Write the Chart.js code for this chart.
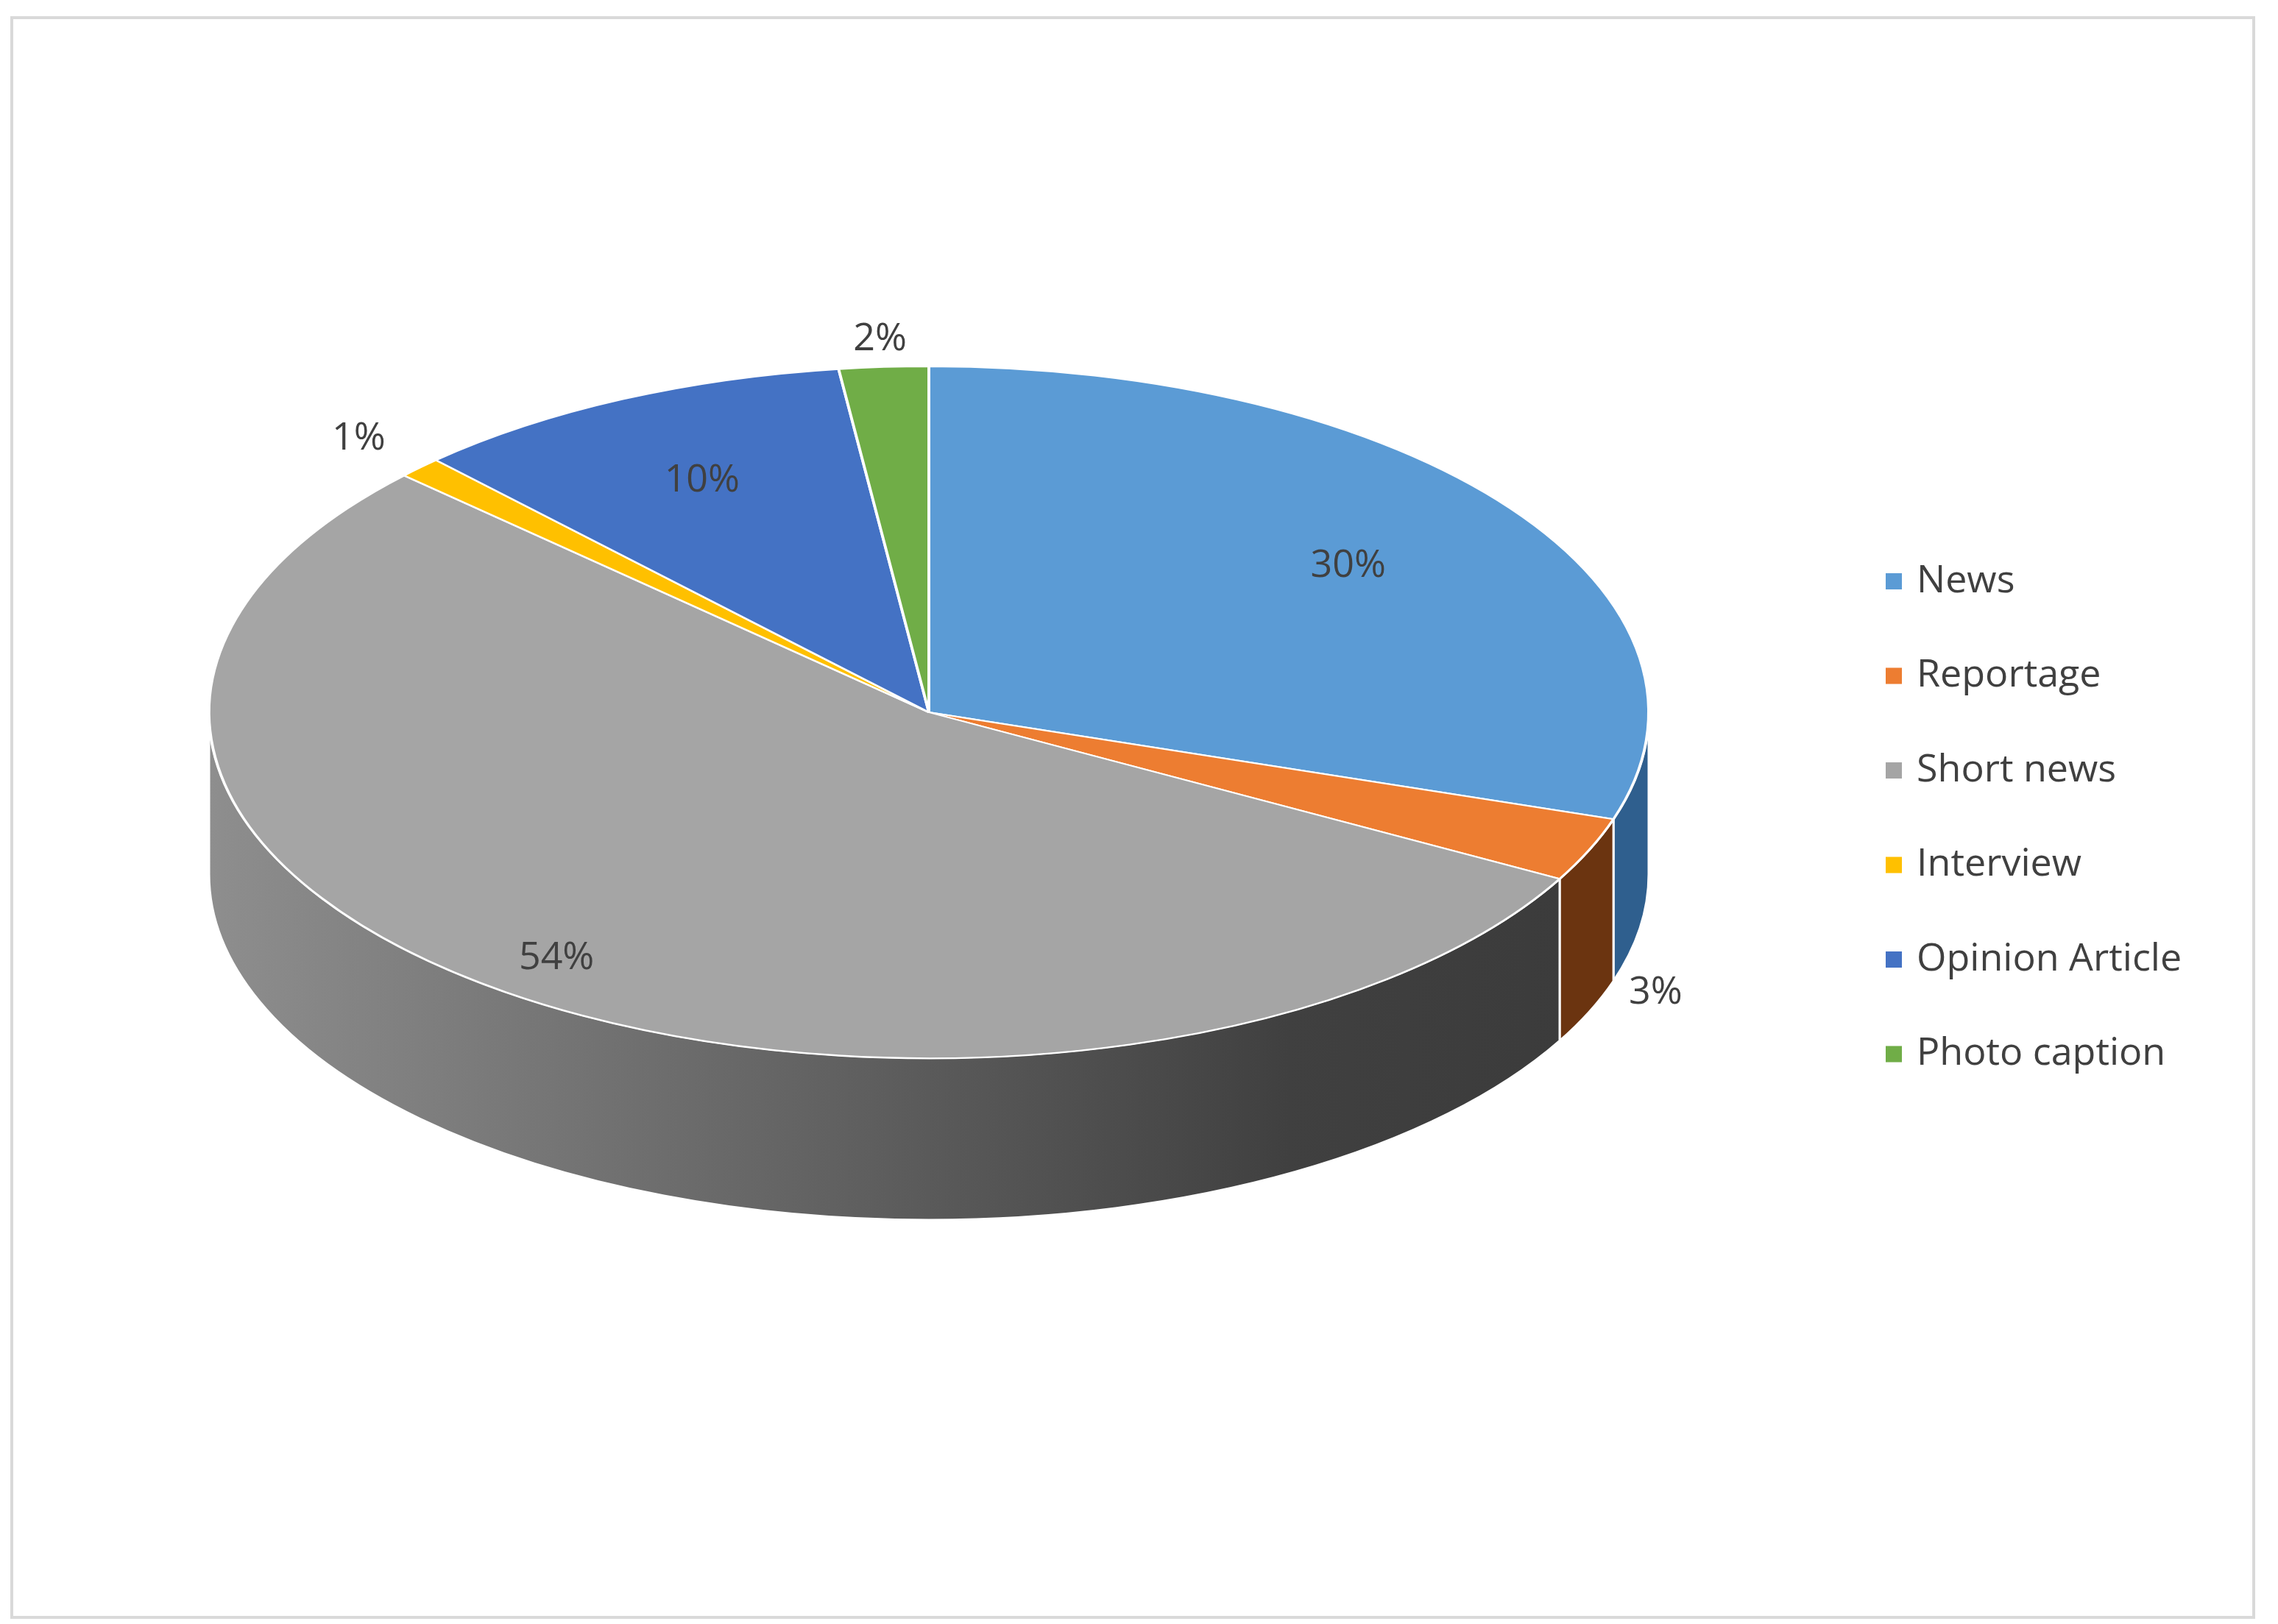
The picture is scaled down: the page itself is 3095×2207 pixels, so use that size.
<!DOCTYPE html>
<html>
<head>
<meta charset="utf-8">
<script src="https://cdn.jsdelivr.net/npm/chart.js@4.4.0/dist/chart.umd.min.js"></script>
<style>
  body { margin: 0; background: #fff; }
  #frame { position: absolute; left: 14px; top: 22px; width: 3042px; height: 2170px; border: 4px solid #d9d9d9; }
  canvas { position: absolute; left: 0; top: 0; }
</style>
</head>
<body>
<div id="frame"></div>
<canvas id="pie" width="3095" height="2207"></canvas>
<script>
// Chart data
const labels = ['News', 'Reportage', 'Short news', 'Interview', 'Opinion Article', 'Photo caption'];
const values = [30, 3, 54, 1, 10, 2];
const colors = ['#5b9bd5', '#ed7d31', '#a5a5a5', '#ffc000', '#4472c4', '#70ad47'];
const sideColors = ['#2f5f8e', '#6b3410', null, '#8a6800', '#25427a', '#3d6526'];
const labelRadius = [0.72, 1.1, 0.88, 1.12, 0.74, 1.08];

// projected ellipse geometry
const CX = 1262, CY = 968, RX = 978, RY = 470, DEPTH = 220;

function ellipsePt(t, dy) {
    return [CX + RX * Math.cos(t), CY + RY * Math.sin(t) + (dy || 0)];
}

const tiltPlugin = {
    id: 'tilt',
    beforeDatasetsDraw(chart) {
        const ctx = chart.ctx;
        const arcs = chart.getDatasetMeta(0).data;
        // sides of the extruded disc (front half only)
        arcs.forEach((arc, i) => {
            let a = arc.startAngle, b = arc.endAngle;
            const TWO = Math.PI * 2;
            while (a < 0) { a += TWO; b += TWO; }
            const ranges = [[a, b], [a - TWO, b - TWO]];
            ranges.forEach(([s, e]) => {
                const t1 = Math.max(s, 0), t2 = Math.min(e, Math.PI);
                if (t2 <= t1) return;
                ctx.save();
                ctx.beginPath();
                ctx.ellipse(CX, CY, RX, RY, 0, t1, t2, false);
                const p = ellipsePt(t2, DEPTH);
                ctx.lineTo(p[0], p[1]);
                ctx.ellipse(CX, CY + DEPTH, RX, RY, 0, t2, t1, true);
                ctx.closePath();
                if (sideColors[i]) {
                    ctx.fillStyle = sideColors[i];
                } else {
                    const g = ctx.createLinearGradient(CX - RX, 0, CX + RX, 0);
                    g.addColorStop(0, '#8e8e8e');
                    g.addColorStop(0.75, '#404040');
                    g.addColorStop(1, '#3a3a3a');
                    ctx.fillStyle = g;
                }
                ctx.fill();
                ctx.strokeStyle = '#ffffff';
                ctx.lineWidth = 3;
                ctx.stroke();
                ctx.restore();
            });
        });
        // squash the pie into the ellipse
        const a0 = arcs[0];
        ctx.save();
        ctx.translate(CX, CY);
        ctx.scale(RX / a0.outerRadius, RY / a0.outerRadius);
        ctx.translate(-a0.x, -a0.y);
    },
    afterDatasetsDraw(chart) {
        chart.ctx.restore();
    },
    afterDraw(chart) {
        const ctx = chart.ctx;
        const arcs = chart.getDatasetMeta(0).data;
        const total = values.reduce((s, v) => s + v, 0);
        ctx.save();
        ctx.font = '52px "Open Sans", Calibri, sans-serif';
        ctx.fillStyle = '#404040';
        ctx.textAlign = 'center';
        ctx.textBaseline = 'middle';
        arcs.forEach((arc, i) => {
            const mid = (arc.startAngle + arc.endAngle) / 2;
            const f = labelRadius[i];
            let x = CX + RX * f * Math.cos(mid);
            let y = CY + RY * f * Math.sin(mid);
            if (f > 1 && Math.sin(mid) > 0) y += DEPTH * 0.8;
            ctx.fillText(Math.round(values[i] / total * 100) + '%', x, y);
        });
        // legend
        ctx.textAlign = 'left';
        labels.forEach((lab, i) => {
            const y = 790 + i * 128.5;
            ctx.fillStyle = colors[i];
            ctx.fillRect(2562, y - 11, 22, 22);
            ctx.fillStyle = '#404040';
            ctx.fillText(lab, 2604, y);
        });
        ctx.restore();
    }
};

new Chart(document.getElementById('pie'), {
    type: 'pie',
    data: {
        labels: labels,
        datasets: [{
            data: values,
            backgroundColor: colors,
            borderColor: '#ffffff',
            borderWidth: 4,
            clip: false
        }]
    },
    options: {
        responsive: false,
        devicePixelRatio: 1,
        animation: false,
        layout: { padding: 100 },
        plugins: {
            legend: { display: false },
            tooltip: { enabled: false }
        }
    },
    plugins: [tiltPlugin]
});
</script>
</body>
</html>
